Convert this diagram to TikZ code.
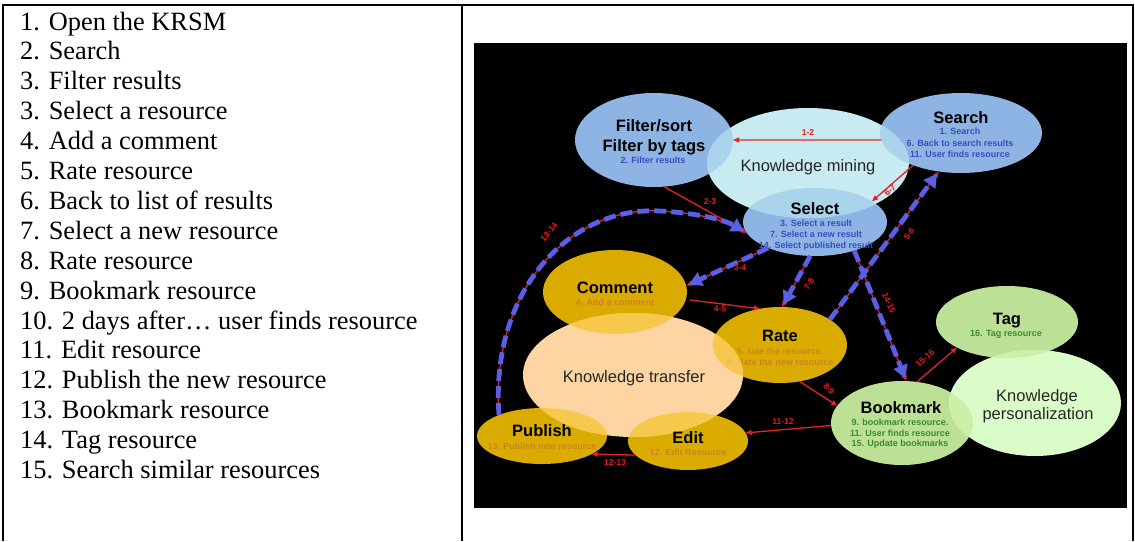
\documentclass[tikz,border=0pt]{standalone}
\usepackage{fontspec}
\setmainfont{Liberation Serif}
\newfontfamily\diagsans{Liberation Sans}
\usetikzlibrary{shapes.geometric,arrows.meta}

\definecolor{taskblue}{HTML}{8DB4E2}
\definecolor{mixblue}{HTML}{AAD3EC}
\definecolor{kmcol}{HTML}{C7EBF1}
\definecolor{subblue}{HTML}{3B4CC0}
\definecolor{gold}{HTML}{DAAC02}
\definecolor{mixgold}{HTML}{F6C94C}
\definecolor{ktcol}{HTML}{FCD5A2}
\definecolor{subgold}{HTML}{CF841A}
\definecolor{mixsub}{HTML}{EFB66C}
\definecolor{leaf}{HTML}{BCE196}
\definecolor{mixleaf}{HTML}{CCEFAA}
\definecolor{kpcol}{HTML}{DAFCC8}
\definecolor{subgreen}{HTML}{3D8A2E}
\definecolor{linered}{HTML}{E3222A}
\definecolor{labelred}{HTML}{E41B1B}
\definecolor{dashblue}{HTML}{5C5EE6}

\begin{document}
\begin{tikzpicture}[x=1pt,y=-1pt,
  task/.style={ellipse,inner sep=0pt,outer sep=0pt,draw=none},
  title/.style={font=\diagsans\bfseries\fontsize{16.5}{19}\selectfont,inner sep=0pt,anchor=base,text=black},
  area/.style={font=\diagsans\fontsize{16.5}{19}\selectfont,inner sep=0pt,anchor=base,text=black!85},
  sub/.style={font=\diagsans\bfseries\fontsize{9}{11}\selectfont,inner sep=0pt,anchor=base},
  lbl/.style={font=\diagsans\bfseries\fontsize{8.5}{9}\selectfont,inner sep=0pt,text=labelred},
  redline/.style={draw=linered,line width=1.3pt,-{Triangle[length=6pt,width=5pt]}},
  bluedash/.style={draw=dashblue,line width=4.8pt,dash pattern=on 12pt off 5pt,shorten >=3pt,
    -{Triangle[length=13pt,width=15pt,line width=0pt]}},
  listtext/.style={font=\fontsize{26.4}{30}\selectfont,inner sep=0pt,anchor=base west}
]
\useasboundingbox (0,0) rectangle (1135,541);
\fill[white] (0,0) rectangle (1135,541);

% table frame
\draw[line width=2pt] (3,541) -- (3,5) -- (1133,5) -- (1133,541);
\draw[line width=2pt] (462,5) -- (462,541);

% numbered steps
\foreach \t [count=\i from 0] in {1. Open the KRSM,2. Search,3. Filter results,3. Select a resource,
  4. Add a comment,5. Rate resource,6. Back to list of results,7. Select a new resource,
  8. Rate resource,9. Bookmark resource,10. 2 days after… user finds resource,11. Edit resource,
  12. Publish the new resource,13. Bookmark resource,14. Tag resource,15. Search similar resources}
  \node[listtext] (item\i) at (20,{30+\i*29.9}) {\t};

% diagram canvas
\fill[black] (474,43) rectangle (1127,508);

% task ellipses
\node[task,fill=taskblue,minimum width=158,minimum height=94] (filt) at (654,140) {};
\node[task,fill=taskblue,minimum width=162,minimum height=80] (srch) at (961,133) {};
\node[task,fill=taskblue,minimum width=144,minimum height=68] (sel) at (815,222) {};
\node[task,fill=gold,minimum width=144,minimum height=84] (comm) at (615,292) {};
\node[task,fill=gold,minimum width=134,minimum height=76] (rate) at (780,345) {};
\node[task,fill=gold,minimum width=130,minimum height=56] (pub) at (542,436) {};
\node[task,fill=gold,minimum width=120,minimum height=58] (edit) at (688,441) {};
\node[task,fill=leaf,minimum width=142,minimum height=84] (bkm) at (902,423) {};
\node[task,fill=leaf,minimum width=142,minimum height=72] (tag) at (1007,322) {};

% step lines inside the ellipses
\node[sub,text=subblue] (filt-s) at (653,163) {2. Filter results};
\node[sub,text=subblue] (srch-s1) at (960,134) {1. Search};
\node[sub,text=subblue] (srch-s2) at (960,146) {6. Back to search results};
\node[sub,text=subblue] (srch-s3) at (960,157) {11. User finds resource};
\node[sub,text=subblue] (sel-s1) at (816,226) {3. Select a result};
\node[sub,text=subblue] (sel-s2) at (816,237) {7. Select a new result};
\node[sub,text=subblue] (sel-s3) at (816,248) {14. Select published result};
\node[sub,text=subgold] (comm-s) at (615,305) {4. Add a comment};
\node[sub,text=subgold] (rate-s1) at (780,354) {5. rate the resource.};
\node[sub,text=subgold] (rate-s2) at (780,365) {8. Rate the new resource};
\node[sub,text=subgold] (pub-s) at (542,449) {13. Publish new resource};
\node[sub,text=subgold] (edit-s) at (688,455) {12. Edit Resource};
\node[sub,text=subgreen] (bkm-s1) at (900,425) {9. bookmark resource.};
\node[sub,text=subgreen] (bkm-s2) at (900,436) {11. User finds resource};
\node[sub,text=subgreen] (bkm-s3) at (900,446) {15. Update bookmarks};
\node[sub,text=subgreen] (tag-s) at (1006,336) {16. Tag resource};

% knowledge areas
\node[task,fill=kmcol,minimum width=202,minimum height=110] (km) at (808,163) {};
\begin{scope}
  \clip (km.center) ellipse [x radius=101pt,y radius=55pt];
  \fill[mixblue] (filt.center) ellipse [x radius=79pt,y radius=47pt];
  \fill[mixblue] (srch.center) ellipse [x radius=81pt,y radius=40pt];
  \fill[mixblue] (sel.center) ellipse [x radius=72pt,y radius=34pt];
\end{scope}

\node[task,fill=ktcol,minimum width=220,minimum height=124] (kt) at (633,375) {};
\begin{scope}
  \clip (kt.center) ellipse [x radius=110pt,y radius=62pt];
  \fill[mixgold] (comm.center) ellipse [x radius=72pt,y radius=42pt];
  \fill[mixgold] (rate.center) ellipse [x radius=67pt,y radius=38pt];
  \fill[mixgold] (pub.center) ellipse [x radius=65pt,y radius=28pt];
  \fill[mixgold] (edit.center) ellipse [x radius=60pt,y radius=29pt];
  \node[sub,text=mixsub] at (rate-s1.base) {5. rate the resource.};
  \node[sub,text=mixsub] at (rate-s2.base) {8. Rate the new resource};
\end{scope}

\node[task,fill=kpcol,minimum width=172,minimum height=106] (kp) at (1035,403) {};
\begin{scope}
  \clip (kp.center) ellipse [x radius=86pt,y radius=53pt];
  \fill[mixleaf] (bkm.center) ellipse [x radius=71pt,y radius=42pt];
  \fill[mixleaf] (tag.center) ellipse [x radius=71pt,y radius=36pt];
\end{scope}

\node[area] (km-t) at (808,171) {Knowledge mining};
\node[area] (kt-t) at (634,382) {Knowledge transfer};
\node[area] (kp-t1) at (1037,401) {Knowledge};
\node[area] (kp-t2) at (1038,419) {personalization};

% titles
\node[title] (filt-t1) at (654,131) {Filter/sort};
\node[title] (filt-t2) at (654,151) {Filter by tags};
\node[title] (srch-t) at (961,123) {Search};
\node[title] (sel-t) at (815,214) {Select};
\node[title] (comm-t) at (615,293) {Comment};
\node[title] (rate-t) at (780,341) {Rate};
\node[title] (pub-t) at (542,436) {Publish};
\node[title] (edit-t) at (688,443) {Edit};
\node[title] (bkm-t) at (901,413) {Bookmark};
\node[title] (tag-t) at (1007,324) {Tag};

% single transitions
\draw[redline] (srch.185) -- (filt.0);
\draw[redline] (filt.282) -- (sel.189);
\draw[redline] (srch.214) -- (sel.20);
\draw[redline,shorten <=4pt] (comm.-6) -- (rate.119);
\draw[redline] (bkm.70) -- (tag.207);
\draw[redline] (rate.298) -- (bkm.165);
\draw[redline] (bkm.182) -- (edit.8);
\draw[redline] (edit.195) -- (pub.-20);

% repeated transitions
\draw[redline] (sel.209) -- (comm.5.5);
\draw[bluedash] (sel.209) -- (comm.5.5);
\draw[redline] (sel.262) -- (rate.87);
\draw[bluedash] (sel.262) -- (rate.87);
\draw[redline] (rate.27) -- (srch.240);
\draw[bluedash] (rate.27) -- (srch.240);
\draw[redline] (sel.324) -- (bkm.84);
\draw[bluedash] (sel.324) -- (bkm.84);
\draw[redline] (pub.154) .. controls (490,290) and (570,206) .. (660,211)
  .. controls (705,213.5) and (728,222) .. (sel.189);
\draw[bluedash] (pub.154) .. controls (490,290) and (570,206) .. (660,211)
  .. controls (705,213.5) and (728,222) .. (sel.189);

% transition labels
\node[lbl] (n12) at (808,133) {1-2};
\node[lbl] (n23) at (710,202) {2-3};
\node[lbl,rotate=41] (n67) at (890,190) {6-7};
\node[lbl] (n34) at (740,268) {3-4};
\node[lbl,rotate=61] (n78) at (809,284) {7-8};
\node[lbl] (n45) at (720,309) {4-5};
\node[lbl,rotate=54] (n56) at (909,234) {5-6};
\node[lbl,rotate=-65] (n1415) at (889,303) {14-15};
\node[lbl,rotate=42] (n1516) at (925,358) {15-16};
\node[lbl,rotate=-50] (n89) at (829,389) {8-9};
\node[lbl] (n1112) at (783,422) {11-12};
\node[lbl] (n1213) at (615,463) {12-13};
\node[lbl,rotate=50] (n1314) at (549,232) {13-14};
\end{tikzpicture}
\end{document}
